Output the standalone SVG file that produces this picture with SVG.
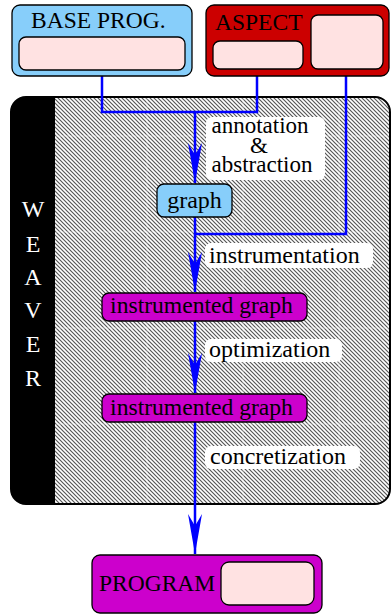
<svg xmlns="http://www.w3.org/2000/svg" width="392" height="614" viewBox="0 0 392 614">
<style>
  .t{font-family:"Liberation Serif","Times New Roman",serif;font-size:24px;fill:#000}
  .w{font-family:"Liberation Serif","Times New Roman",serif;font-size:24px;fill:#fff;text-anchor:middle}
  .box{stroke:#000;stroke-width:1.3}
  .pink{fill:#ffe2e2;stroke:#000;stroke-width:1.3}
  .blue{fill:#87cefa}
  .mag{fill:#cc00cc}
  .red{fill:#cc0000}
  .lbl{fill:#fff}
  .conn{fill:none;stroke:#0000ff;stroke-width:2.5}
  .seam{stroke:#fff;stroke-width:1;opacity:0.45}
</style>
<defs>
  <pattern id="hatch" patternUnits="userSpaceOnUse" width="4" height="4">
    <rect width="4" height="4" fill="#fff"/>
    <path d="M-1,-1 L5,5 M-1,3 L1,5 M3,-1 L5,1" stroke="#555" stroke-width="1.15"/>
  </pattern>
  <marker id="arr" markerUnits="userSpaceOnUse" markerWidth="16" markerHeight="42" viewBox="-8 -40 16 42" refX="0" refY="0" orient="auto-start-reverse" overflow="visible">
    <path d="M0,0 L-7,-40 L0,-28 L7,-40 Z" fill="#0000ff" transform="rotate(-90)"/>
  </marker>
</defs>

<g id="weaver">
  <rect x="11" y="97" width="379" height="407" rx="15" fill="url(#hatch)"/>
  <g class="seam">
    <line x1="147" y1="98" x2="147" y2="503"/>
    <line x1="243" y1="98" x2="243" y2="503"/>
    <line x1="339" y1="98" x2="339" y2="503"/>
    <line x1="56" y1="136" x2="389" y2="136"/>
    <line x1="56" y1="232" x2="389" y2="232"/>
    <line x1="56" y1="328" x2="389" y2="328"/>
    <line x1="56" y1="424" x2="389" y2="424"/>
  </g>
  <path d="M55,97 H26 A15,15 0 0 0 11,112 V489 A15,15 0 0 0 26,504 H55 Z" fill="#000"/>
  <rect x="11" y="97" width="379" height="407" rx="15" fill="none" stroke="#000" stroke-width="2"/>
  <text class="w" x="33" y="217">W</text>
  <text class="w" x="33" y="252">E</text>
  <text class="w" x="33" y="285">A</text>
  <text class="w" x="33" y="318">V</text>
  <text class="w" x="33" y="352">E</text>
  <text class="w" x="33" y="386">R</text>
</g>

<g id="labels">
  <rect class="lbl" x="206" y="117" width="119" height="63" rx="6"/>
  <text class="t" x="260" y="133" text-anchor="middle" style="font-size:23px">annotation</text>
  <text class="t" x="259" y="153" text-anchor="middle" style="font-size:23px">&amp;</text>
  <text class="t" x="262" y="172" text-anchor="middle" style="font-size:23px">abstraction</text>
  <rect class="lbl" x="205" y="243" width="168" height="25" rx="6"/>
  <text class="t" x="209" y="263">instrumentation</text>
  <rect class="lbl" x="205" y="339" width="137" height="23" rx="6"/>
  <text class="t" x="209" y="357">optimization</text>
  <rect class="lbl" x="205" y="446" width="155" height="23" rx="6"/>
  <text class="t" x="210" y="464">concretization</text>
</g>

<g id="connectors">
  <path class="conn" d="M102,70 V112 H257 V69"/>
  <path class="conn" d="M195,112 V183" marker-end="url(#arr)"/>
  <path class="conn" d="M346,69 V234 H195"/>
  <path class="conn" d="M195,217 V292" marker-end="url(#arr)"/>
  <path class="conn" d="M195,321 V393" marker-end="url(#arr)"/>
  <path class="conn" d="M195,422 V554" marker-end="url(#arr)"/>
</g>

<g id="base-prog">
  <rect class="box blue" x="12" y="5" width="180" height="71" rx="8"/>
  <text class="t" x="31" y="28" style="font-size:23.5px">BASE PROG.</text>
  <rect class="pink" x="19" y="37" width="166" height="33" rx="7"/>
</g>

<g id="aspect">
  <rect class="box red" x="206" y="5" width="183" height="71" rx="8"/>
  <text class="t" x="215" y="30" style="font-size:23.5px">ASPECT</text>
  <rect class="pink" x="213" y="41" width="90" height="28" rx="7"/>
  <rect class="pink" x="311" y="15" width="72" height="54" rx="7"/>
</g>

<g id="graph">
  <rect class="box blue" x="157" y="184" width="75" height="33" rx="7"/>
  <text class="t" x="194.5" y="208" text-anchor="middle">graph</text>
</g>

<g id="instrumented-graph-1">
  <rect class="box mag" x="102" y="293" width="205" height="28" rx="7"/>
  <text class="t" x="201.5" y="313" text-anchor="middle" style="font-size:23.6px">instrumented graph</text>
</g>

<g id="instrumented-graph-2">
  <rect class="box mag" x="102" y="394" width="205" height="28" rx="7"/>
  <text class="t" x="201.5" y="415" text-anchor="middle" style="font-size:23.6px">instrumented graph</text>
</g>

<g id="program">
  <rect class="box mag" x="92" y="555" width="230" height="58" rx="8"/>
  <text class="t" x="99" y="591" style="font-size:23.5px">PROGRAM</text>
  <rect class="pink" x="221" y="562" width="93" height="43" rx="8"/>
</g>
</svg>
